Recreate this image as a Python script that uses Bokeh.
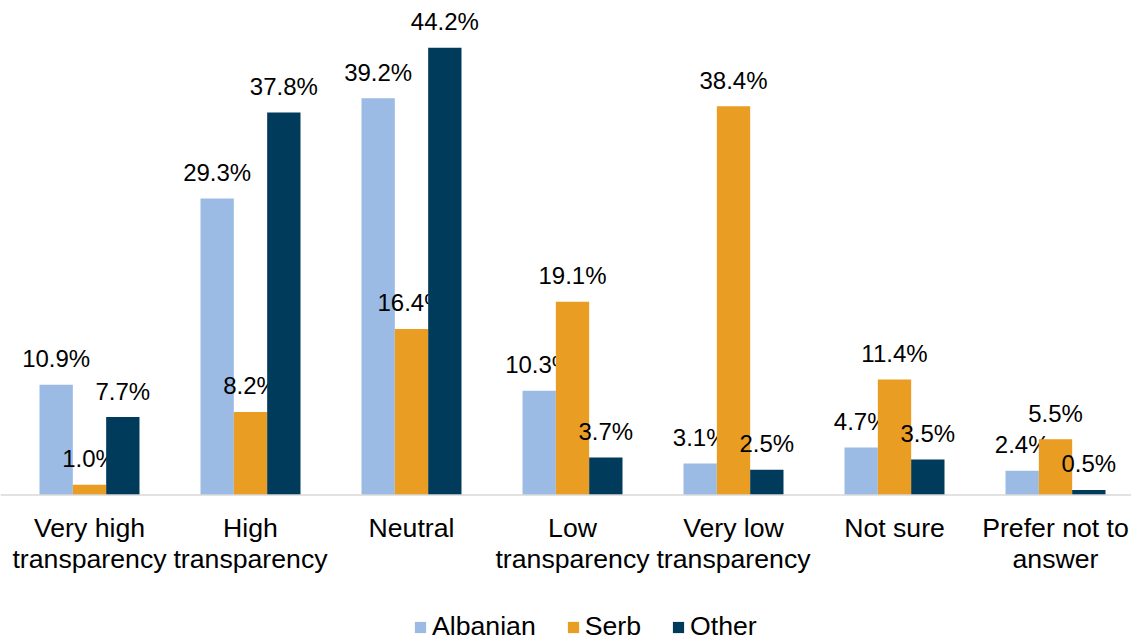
from bokeh.plotting import figure
from bokeh.models import ColumnDataSource, Range1d, Span, Legend, LegendItem
from bokeh.transform import dodge
from bokeh.core.properties import value
from bokeh.embed import file_html
from bokeh.resources import INLINE

categories = ["Very high\ntransparency", "High\ntransparency", "Neutral",
              "Low\ntransparency", "Very low\ntransparency", "Not sure",
              "Prefer not to\nanswer"]
albanian = [10.9, 29.3, 39.2, 10.3, 3.1, 4.7, 2.4]
serb = [1.0, 8.2, 16.4, 19.1, 38.4, 11.4, 5.5]
other = [7.7, 37.8, 44.2, 3.7, 2.5, 3.5, 0.5]
series_names = ["Albanian", "Serb", "Other"]
colors = ["#9BBBE4", "#E99D22", "#003B5C"]

FONT = "Liberation Sans"
idx = list(range(len(categories)))

src = ColumnDataSource(dict(
    x=idx, cat=categories,
    Albanian=albanian, Serb=serb, Other=other,
    Albanian_lbl=[f"{v:.1f}%" for v in albanian],
    Serb_lbl=[f"{v:.1f}%" for v in serb],
    Other_lbl=[f"{v:.1f}%" for v in other],
    zero=[0] * len(categories),
))

W, H = 1131, 641
p = figure(width=W, height=H, output_backend="svg", toolbar_location=None,
           x_range=Range1d(-0.5528, 6.472), y_range=Range1d(-14.48, 48.86),
           min_border=0, outline_line_color=None)
p.xaxis.visible = False
p.yaxis.visible = False
p.xgrid.visible = False
p.ygrid.visible = False
p.background_fill_color = "white"
p.border_fill_color = "white"

bw = 0.207
renderers = []
for k, (name, col) in enumerate(zip(series_names, colors)):
    off = (k - 1) * bw
    r = p.vbar(x=dodge("x", off, range=p.x_range), top=name, width=bw,
               bottom=0, source=src, fill_color=col, line_color=None)
    renderers.append(r)
    p.text(x=dodge("x", off, range=p.x_range), y=name, text=name + "_lbl",
           source=src, text_align="center", text_baseline="alphabetic",
           y_offset=-26, text_font=value(FONT), text_font_size="24px",
           text_color="#000000")

p.add_layout(Span(location=0, dimension="width", line_color="#D9D9D9",
                  line_width=1.5))

p.text(x="x", y="zero", text="cat", source=src, text_align="center",
       text_baseline="top", y_offset=18, text_font=value(FONT),
       text_font_size="26.67px", text_line_height=1.04, text_color="#000000")

legend = Legend(items=[LegendItem(label=n, renderers=[r])
                       for n, r in zip(series_names, renderers)],
                orientation="horizontal", location=(413, -1),
                label_text_font=FONT, label_text_font_size="26.67px",
                label_text_color="#000000", glyph_width=14, glyph_height=14,
                label_standoff=5, spacing=30, padding=0, margin=0,
                border_line_color=None, background_fill_alpha=0)
p.add_layout(legend, "center")

open("out.html", "w").write(file_html(p, INLINE))
